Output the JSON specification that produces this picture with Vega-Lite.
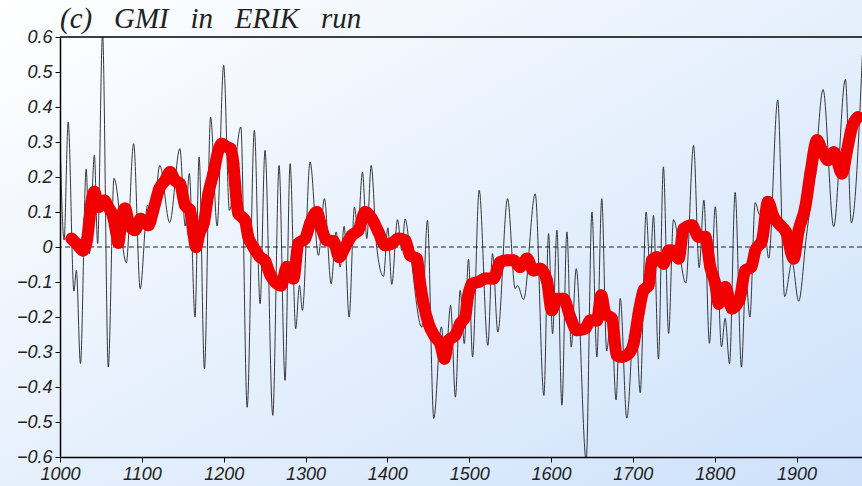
{
  "$schema": "https://vega.github.io/schema/vega-lite/v6.json",
  "width": 802,
  "height": 420,
  "autosize": {"type": "none"},
  "padding": {"left": 60, "top": 37, "right": 0, "bottom": 29},
  "background": "#ffffff",
  "config": {
    "view": {"stroke": null}
  },
  "title": {"text": "(c)\u2002 GMI\u2002 in\u2002 ERIK\u2002 run", "anchor": "start", "frame": "group", "font": "Liberation Serif", "fontStyle": "italic", "fontWeight": "normal", "fontSize": 29, "color": "#222222", "baseline": "alphabetic", "offset": -27, "dy": 35},
  "datasets": {
    "gmi": [
      {"year": 1000, "value": 0.31}, {"year": 1005, "value": 0.02}, {"year": 1010, "value": 0.357}, {"year": 1017, "value": -0.126}, {"year": 1020, "value": -0.067}, {"year": 1025, "value": -0.333}, {"year": 1032, "value": 0.222}, {"year": 1036, "value": -0.019}, {"year": 1042, "value": 0.262}, {"year": 1046, "value": 0.01}, {"year": 1052, "value": 0.61}, {"year": 1059, "value": -0.343}, {"year": 1066, "value": 0.196}, {"year": 1081, "value": -0.045}, {"year": 1090, "value": 0.295}, {"year": 1098, "value": -0.119}, {"year": 1107, "value": 0.12}, {"year": 1113, "value": 0.06}, {"year": 1122, "value": 0.233}, {"year": 1134, "value": 0.07}, {"year": 1146.5, "value": 0.281}, {"year": 1153, "value": 0.06}, {"year": 1158, "value": 0.21}, {"year": 1165, "value": -0.2}, {"year": 1170, "value": 0.257}, {"year": 1176.5, "value": -0.348}, {"year": 1184, "value": 0.371}, {"year": 1192, "value": 0.06}, {"year": 1200, "value": 0.519}, {"year": 1207, "value": 0.105}, {"year": 1221, "value": 0.343}, {"year": 1228.7, "value": -0.458}, {"year": 1237.5, "value": 0.333}, {"year": 1244.5, "value": -0.162}, {"year": 1250.5, "value": 0.276}, {"year": 1260, "value": -0.481}, {"year": 1267.7, "value": 0.233}, {"year": 1275, "value": -0.381}, {"year": 1281.2, "value": 0.238}, {"year": 1288, "value": -0.233}, {"year": 1292.6, "value": -0.11}, {"year": 1296.2, "value": -0.181}, {"year": 1305.6, "value": 0.243}, {"year": 1315.8, "value": -0.024}, {"year": 1323.1, "value": 0.138}, {"year": 1331.3, "value": -0.105}, {"year": 1337.4, "value": 0.043}, {"year": 1342.3, "value": -0.057}, {"year": 1347.2, "value": 0.059}, {"year": 1353.3, "value": -0.2}, {"year": 1359.8, "value": 0.114}, {"year": 1363.9, "value": 0.048}, {"year": 1369.6, "value": 0.214}, {"year": 1374.9, "value": 0.024}, {"year": 1380.2, "value": 0.233}, {"year": 1387, "value": 0.0}, {"year": 1395.3, "value": -0.084}, {"year": 1400.6, "value": 0.055}, {"year": 1405.4, "value": -0.107}, {"year": 1412.4, "value": 0.078}, {"year": 1417.7, "value": -0.01}, {"year": 1421.7, "value": 0.08}, {"year": 1427.9, "value": -0.014}, {"year": 1442, "value": -0.229}, {"year": 1449, "value": 0.076}, {"year": 1456.7, "value": -0.49}, {"year": 1466, "value": -0.228}, {"year": 1471, "value": -0.33}, {"year": 1477.3, "value": -0.167}, {"year": 1483.2, "value": -0.429}, {"year": 1489, "value": -0.124}, {"year": 1494, "value": -0.276}, {"year": 1499.2, "value": -0.035}, {"year": 1504.1, "value": -0.314}, {"year": 1512.2, "value": 0.162}, {"year": 1522.8, "value": -0.281}, {"year": 1528.5, "value": -0.019}, {"year": 1535, "value": -0.243}, {"year": 1546.9, "value": 0.138}, {"year": 1556.2, "value": -0.119}, {"year": 1559, "value": -0.11}, {"year": 1566.5, "value": -0.15}, {"year": 1580.7, "value": 0.152}, {"year": 1591.3, "value": -0.424}, {"year": 1597, "value": 0.038}, {"year": 1601.9, "value": -0.248}, {"year": 1607.2, "value": 0.048}, {"year": 1613.3, "value": -0.452}, {"year": 1619.4, "value": 0.043}, {"year": 1624.7, "value": -0.286}, {"year": 1630.8, "value": -0.062}, {"year": 1643, "value": -0.61}, {"year": 1650, "value": 0.1}, {"year": 1656, "value": -0.314}, {"year": 1662, "value": 0.138}, {"year": 1668, "value": -0.297}, {"year": 1673.5, "value": -0.19}, {"year": 1679.5, "value": -0.437}, {"year": 1684.6, "value": -0.147}, {"year": 1692.6, "value": -0.489}, {"year": 1702.8, "value": -0.164}, {"year": 1709, "value": -0.416}, {"year": 1716.2, "value": 0.1}, {"year": 1721, "value": -0.066}, {"year": 1725.2, "value": 0.09}, {"year": 1731.3, "value": -0.32}, {"year": 1737.3, "value": 0.229}, {"year": 1743.7, "value": -0.247}, {"year": 1749.6, "value": 0.078}, {"year": 1764.7, "value": -0.103}, {"year": 1774.2, "value": 0.29}, {"year": 1781, "value": -0.059}, {"year": 1786.8, "value": 0.134}, {"year": 1793.6, "value": -0.275}, {"year": 1800.7, "value": 0.115}, {"year": 1808.3, "value": -0.285}, {"year": 1812.8, "value": -0.204}, {"year": 1818.1, "value": -0.333}, {"year": 1825, "value": 0.156}, {"year": 1832.7, "value": -0.343}, {"year": 1838, "value": -0.09}, {"year": 1843, "value": -0.2}, {"year": 1849.5, "value": 0.127}, {"year": 1855, "value": 0.092}, {"year": 1859, "value": 0.105}, {"year": 1866, "value": -0.032}, {"year": 1877, "value": 0.42}, {"year": 1885.5, "value": -0.142}, {"year": 1894.5, "value": -0.043}, {"year": 1902.6, "value": -0.155}, {"year": 1912, "value": 0.03}, {"year": 1917, "value": 0.12}, {"year": 1922, "value": 0.2}, {"year": 1932.4, "value": 0.45}, {"year": 1945.4, "value": 0.058}, {"year": 1959.7, "value": 0.479}, {"year": 1967, "value": 0.069}, {"year": 1980.5, "value": 0.549}
    ],
    "smooth": [
      {"year": 1014, "value": 0.024}, {"year": 1020, "value": 0.01}, {"year": 1028, "value": -0.01}, {"year": 1033, "value": 0.02}, {"year": 1036, "value": 0.08}, {"year": 1038.7, "value": 0.133}, {"year": 1042, "value": 0.158}, {"year": 1047, "value": 0.114}, {"year": 1054, "value": 0.133}, {"year": 1059, "value": 0.114}, {"year": 1065, "value": 0.086}, {"year": 1069, "value": 0.038}, {"year": 1071.3, "value": 0.012}, {"year": 1075.4, "value": 0.086}, {"year": 1079.5, "value": 0.11}, {"year": 1084.8, "value": 0.062}, {"year": 1091.7, "value": 0.048}, {"year": 1098.6, "value": 0.081}, {"year": 1108, "value": 0.062}, {"year": 1114, "value": 0.105}, {"year": 1121.4, "value": 0.167}, {"year": 1128.4, "value": 0.19}, {"year": 1134.5, "value": 0.214}, {"year": 1140.6, "value": 0.19}, {"year": 1146.7, "value": 0.181}, {"year": 1152.8, "value": 0.119}, {"year": 1158.9, "value": 0.105}, {"year": 1163, "value": 0.038}, {"year": 1166.3, "value": 0.0}, {"year": 1170.3, "value": 0.038}, {"year": 1176, "value": 0.071}, {"year": 1181.3, "value": 0.152}, {"year": 1187.4, "value": 0.21}, {"year": 1193.6, "value": 0.276}, {"year": 1197.6, "value": 0.295}, {"year": 1203.7, "value": 0.286}, {"year": 1208.6, "value": 0.281}, {"year": 1211.9, "value": 0.238}, {"year": 1213.9, "value": 0.181}, {"year": 1216, "value": 0.124}, {"year": 1218, "value": 0.095}, {"year": 1222, "value": 0.086}, {"year": 1226, "value": 0.076}, {"year": 1230, "value": 0.029}, {"year": 1236.3, "value": 0.0}, {"year": 1244.5, "value": -0.029}, {"year": 1250.6, "value": -0.04}, {"year": 1257, "value": -0.08}, {"year": 1270.2, "value": -0.11}, {"year": 1277.1, "value": -0.057}, {"year": 1285.2, "value": -0.09}, {"year": 1291.3, "value": 0.01}, {"year": 1299.5, "value": 0.024}, {"year": 1305.6, "value": 0.067}, {"year": 1313.8, "value": 0.1}, {"year": 1319.9, "value": 0.052}, {"year": 1326, "value": 0.019}, {"year": 1334.1, "value": 0.017}, {"year": 1341.1, "value": -0.029}, {"year": 1348.4, "value": 0.0}, {"year": 1356.5, "value": 0.033}, {"year": 1364.7, "value": 0.048}, {"year": 1372.9, "value": 0.1}, {"year": 1381, "value": 0.081}, {"year": 1389.1, "value": 0.043}, {"year": 1397.3, "value": 0.005}, {"year": 1405.4, "value": 0.01}, {"year": 1413.6, "value": 0.024}, {"year": 1421.7, "value": 0.019}, {"year": 1427.9, "value": -0.024}, {"year": 1436, "value": -0.033}, {"year": 1440.1, "value": -0.105}, {"year": 1444.2, "value": -0.162}, {"year": 1450.3, "value": -0.219}, {"year": 1458.4, "value": -0.257}, {"year": 1464.5, "value": -0.276}, {"year": 1469.8, "value": -0.319}, {"year": 1474.7, "value": -0.267}, {"year": 1482.9, "value": -0.252}, {"year": 1489, "value": -0.219}, {"year": 1495.1, "value": -0.2}, {"year": 1498.4, "value": -0.143}, {"year": 1503.2, "value": -0.105}, {"year": 1511.4, "value": -0.1}, {"year": 1519.5, "value": -0.09}, {"year": 1529.7, "value": -0.09}, {"year": 1537.9, "value": -0.043}, {"year": 1546, "value": -0.038}, {"year": 1554.2, "value": -0.038}, {"year": 1562.3, "value": -0.057}, {"year": 1570.5, "value": -0.033}, {"year": 1578.6, "value": -0.067}, {"year": 1586.8, "value": -0.062}, {"year": 1594.9, "value": -0.095}, {"year": 1601, "value": -0.181}, {"year": 1607.2, "value": -0.148}, {"year": 1615.3, "value": -0.148}, {"year": 1623.5, "value": -0.2}, {"year": 1631.6, "value": -0.238}, {"year": 1641.8, "value": -0.233}, {"year": 1647.9, "value": -0.21}, {"year": 1656.1, "value": -0.21}, {"year": 1661.4, "value": -0.138}, {"year": 1666.2, "value": -0.19}, {"year": 1674.4, "value": -0.205}, {"year": 1680.5, "value": -0.31}, {"year": 1686.6, "value": -0.314}, {"year": 1694.8, "value": -0.305}, {"year": 1700.9, "value": -0.276}, {"year": 1707, "value": -0.19}, {"year": 1713.1, "value": -0.124}, {"year": 1719.2, "value": -0.11}, {"year": 1723.3, "value": -0.038}, {"year": 1729.4, "value": -0.029}, {"year": 1737.6, "value": -0.048}, {"year": 1743.7, "value": -0.01}, {"year": 1747.7, "value": -0.01}, {"year": 1755.9, "value": -0.033}, {"year": 1762, "value": 0.052}, {"year": 1772.2, "value": 0.062}, {"year": 1780.3, "value": 0.029}, {"year": 1788.5, "value": 0.029}, {"year": 1794.6, "value": -0.057}, {"year": 1800.7, "value": -0.105}, {"year": 1804.8, "value": -0.162}, {"year": 1813, "value": -0.114}, {"year": 1821.1, "value": -0.176}, {"year": 1830.1, "value": -0.152}, {"year": 1837.4, "value": -0.067}, {"year": 1844.7, "value": -0.057}, {"year": 1849.6, "value": -0.01}, {"year": 1857.8, "value": 0.019}, {"year": 1865.1, "value": 0.129}, {"year": 1872, "value": 0.086}, {"year": 1880.2, "value": 0.062}, {"year": 1887.1, "value": 0.043}, {"year": 1896.5, "value": -0.033}, {"year": 1902.6, "value": 0.048}, {"year": 1910.7, "value": 0.114}, {"year": 1916.9, "value": 0.21}, {"year": 1925.1, "value": 0.305}, {"year": 1931.1, "value": 0.276}, {"year": 1938.5, "value": 0.248}, {"year": 1945.4, "value": 0.271}, {"year": 1955.6, "value": 0.21}, {"year": 1961.7, "value": 0.276}, {"year": 1967.8, "value": 0.343}, {"year": 1975.1, "value": 0.371}
    ]
  },
  "layer": [
    {
      "data": {"name": "gmi"},
      "mark": {"type": "line", "interpolate": "monotone", "color": "#222222", "strokeWidth": 0.9, "clip": true},
      "encoding": {
        "x": {"field": "year", "type": "quantitative", "scale": {"domain": [1000, 1980], "nice": false, "zero": false}, "axis": {"zindex": 1, "title": null, "grid": false, "tickCount": 10, "format": "d", "labelPadding": 3, "domainColor": "#000000", "domainWidth": 1.5, "tickColor": "#000000", "tickSize": 5, "tickWidth": 1, "labelFont": "Liberation Sans", "labelFontStyle": "italic", "labelFontSize": 18, "labelColor": "#222222", "labelOverlap": false, "labelFlush": false}},
        "y": {"field": "value", "type": "quantitative", "scale": {"domain": [-0.6, 0.6], "nice": false, "zero": false}, "axis": {"zindex": 1, "title": null, "grid": false, "tickCount": 12, "labelExpr": "datum.value == 0 ? '0' : format(datum.value, '.1f')", "labelPadding": 3, "domainColor": "#000000", "domainWidth": 1.5, "tickColor": "#000000", "tickSize": 5, "tickWidth": 1, "labelFont": "Liberation Sans", "labelFontStyle": "italic", "labelFontSize": 18, "labelColor": "#222222", "labelOverlap": false, "labelFlush": false}}
      }
    },
    {
      "data": {"values": [{"panel": "background"}]},
      "mark": {"type": "rect", "clip": false, "zindex": -1, "fill": {"gradient": "linear", "x1": 0, "y1": 0, "x2": 1, "y2": 1, "stops": [{"offset": 0, "color": "#ffffff"}, {"offset": 1, "color": "#cde1fa"}]}},
      "encoding": {
        "x": {"datum": 926, "type": "quantitative"},
        "x2": {"datum": 1990},
        "y": {"datum": 0.72, "type": "quantitative"},
        "y2": {"datum": -0.7}
      }
    },
    {
      "data": {"values": [{"panel": "zero"}]},
      "mark": {"type": "rule", "color": "#222222", "strokeWidth": 1, "strokeDash": [5, 3]},
      "encoding": {"y": {"datum": 0, "type": "quantitative"}}
    },
    {
      "data": {"name": "gmi"},
      "mark": {"type": "line", "interpolate": "monotone", "color": "#222222", "strokeWidth": 0.9, "clip": true},
      "encoding": {
        "x": {"field": "year", "type": "quantitative"},
        "y": {"field": "value", "type": "quantitative"}
      }
    },
    {
      "data": {"name": "smooth"},
      "mark": {"type": "line", "interpolate": "monotone", "color": "#f00000", "strokeWidth": 12, "strokeCap": "round", "strokeJoin": "round", "point": {"filled": true, "size": 140, "color": "#f00000", "opacity": 1}},
      "encoding": {
        "x": {"field": "year", "type": "quantitative"},
        "y": {"field": "value", "type": "quantitative"}
      }
    },
    {
      "data": {"values": [{"panel": "top"}]},
      "mark": {"type": "rule", "color": "#000000", "strokeWidth": 1.5},
      "encoding": {"y": {"datum": 0.6, "type": "quantitative"}}
    }
  ]
}
